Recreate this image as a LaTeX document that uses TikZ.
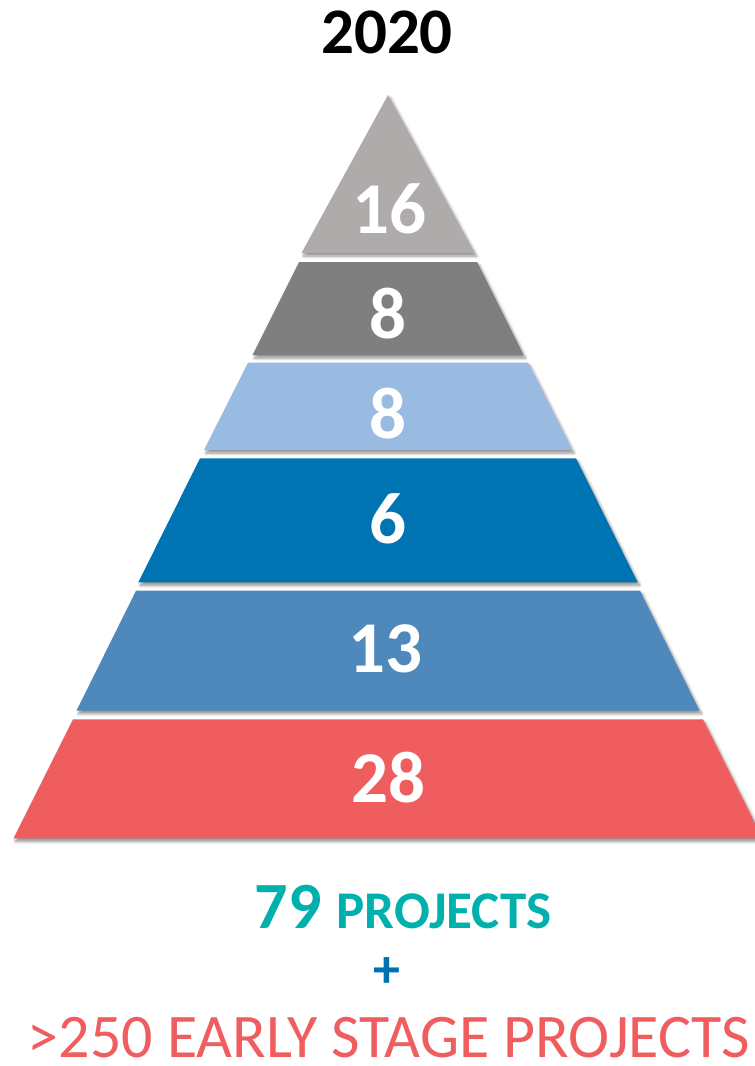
\documentclass[tikz,border=0pt]{standalone}
\usepackage{fontspec}
\setmainfont{Carlito}
\usetikzlibrary{shadows.blur}
\definecolor{cA}{HTML}{AEABAA}
\definecolor{cB}{HTML}{7F7F7F}
\definecolor{cC}{HTML}{99BAE1}
\definecolor{cD}{HTML}{0073B3}
\definecolor{cE}{HTML}{4F88BB}
\definecolor{cF}{HTML}{F05D5F}
\definecolor{teal79}{HTML}{00B0AC}
\definecolor{plusblue}{HTML}{0070B0}
\tikzset{
  layer/.style={draw=none, blur shadow={shadow xshift=2pt, shadow yshift=-3pt, shadow blur radius=3pt, shadow blur steps=6, shadow opacity=45}},
  num/.style={text=white, font=\fontsize{73}{80}\selectfont\bfseries, anchor=base, inner sep=0pt}
}
\begin{document}
\begin{tikzpicture}[x=1pt, y=-1pt]
\useasboundingbox (0,0) rectangle (755,1066);
\begin{scope}
\clip (0,0) rectangle (755,1066);
% layers (centre x = 388)
\fill[layer, cA] (388,95) -- (474.5,253) -- (301.5,253) -- cycle;
\fill[layer, cB] (299,262) -- (477,262) -- (523.5,355) -- (252.5,355) -- cycle;
\fill[layer, cC] (248,362.7) -- (528,362.7) -- (572,450) -- (204,450) -- cycle;
\fill[layer, cD] (200,458.3) -- (576,458.3) -- (637.7,582.3) -- (138.3,582.3) -- cycle;
\fill[layer, cE] (136,590.7) -- (640,590.7) -- (699.5,710.7) -- (76.5,710.7) -- cycle;
\fill[layer, cF] (73,719.3) -- (703,719.3) -- (762.5,838.3) -- (13.5,838.3) -- cycle;
\end{scope}
% labels
\node[num] (n16) at (389,233) {16};
\node[num] (n8a) at (388,338.3) {8};
\node[num] (n8b) at (388,438) {8};
\node[num] (n6) at (388,543) {6};
\node[num] (n13) at (385,672) {13};
\node[num] (n28) at (388,802) {28};
% title
\node[anchor=base, inner sep=0pt, font=\fontsize{65}{70}\selectfont\bfseries] (year) at (387,53) {2020};
% bottom texts
\node[anchor=base, inner sep=0pt, text=teal79, font=\bfseries] (total) at (403,928)
  {\fontsize{66}{70}\selectfont 79 \fontsize{53}{60}\selectfont PROJECTS};
\node[anchor=center, inner sep=0pt, text=plusblue, font=\fontsize{54}{60}\selectfont\bfseries] (plus) at (387,972.5) {+};
\node[anchor=base, inner sep=0pt, text=cF, font=\fontsize{62}{66}\selectfont] (early) at (389,1057.5) {>250 EARLY STAGE PROJECTS};
\end{tikzpicture}
\end{document}
